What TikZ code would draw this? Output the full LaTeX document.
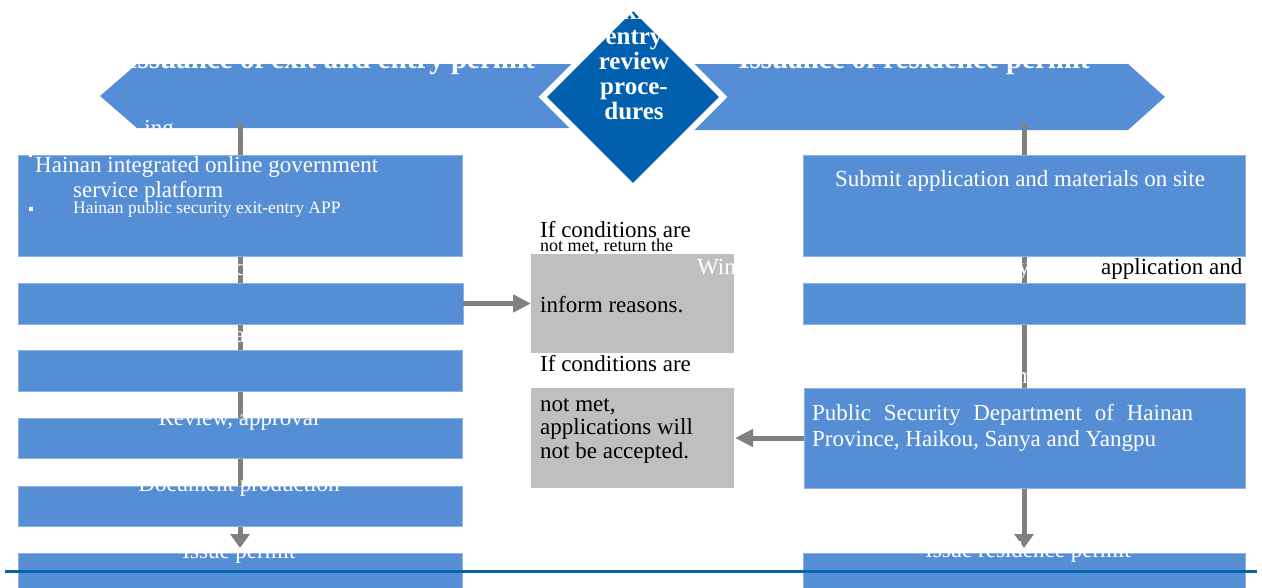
\documentclass[tikz,border=0pt]{standalone}
\usepackage{fontspec}
\setmainfont{Liberation Serif}
\usetikzlibrary{arrows.meta,shapes.geometric}
\definecolor{boxblue}{RGB}{85,142,213}
\definecolor{edgeblue}{RGB}{141,179,226}
\definecolor{dkblue}{RGB}{0,96,173}
\definecolor{conngray}{RGB}{128,128,128}
\definecolor{boxgray}{RGB}{191,191,191}
\definecolor{lineblue}{RGB}{5,99,174}
\begin{document}
\begin{tikzpicture}[x=1pt,y=-1pt,
  bluebox/.style={fill=boxblue, draw=edgeblue, line width=0.8pt, anchor=north west, inner sep=0pt, outer sep=0pt},
  graybox/.style={fill=boxgray, anchor=north west, inner sep=0pt, outer sep=0pt},
  banner/.style={fill=boxblue},
  vconn/.style={draw=conngray, line width=5pt, -{Triangle[width=19pt,length=14pt]}},
  hconn/.style={draw=conngray, line width=5pt, -{Triangle[width=17pt,length=18pt]}},
  wtxt/.style={text=white, inner sep=0pt, anchor=base, font=\fontsize{23}{27}\selectfont},
  wsmall/.style={text=white, inner sep=0pt, anchor=base west, font=\fontsize{17.5}{20}\selectfont},
  btxt/.style={text=black, inner sep=0pt, anchor=base west, font=\fontsize{23}{27}\selectfont},
  bsmall/.style={text=black, inner sep=0pt, anchor=base west, font=\fontsize{18}{20}\selectfont},
  ttl/.style={text=white, inner sep=0pt, anchor=base east, font=\bfseries\fontsize{29}{30}\selectfont},
  dtxt/.style={text=white, inner sep=0pt, anchor=base, font=\bfseries\fontsize{25}{25}\selectfont}
]
\useasboundingbox (0,0) rectangle (1262,587);
\clip (0,0) rectangle (1262,587);

% banners
\path[banner] (100,96) -- (137,64) -- (600,64) -- (600,128) -- (137,128) -- cycle;
\path[banner] (670,64) -- (1128,64) -- (1165,97) -- (1128,130) -- (670,130) -- cycle;

\coordinate (ltop) at (240,124);
\coordinate (rtop) at (1024,124);

% diamond
\node[diamond, aspect=1, minimum width=172pt, minimum height=172pt, inner sep=0pt,
      fill=dkblue, preaction={draw=white, line width=12pt, line join=miter}] (dia) at (633,97) {};

% left boxes
\node[bluebox, minimum width=444pt, minimum height=101pt] (l1) at (18,155) {};
\node[bluebox, minimum width=445pt, minimum height=41pt] (l2) at (18,283) {};
\node[bluebox, minimum width=444pt, minimum height=41pt] (l3) at (18,350) {};
\node[bluebox, minimum width=444pt, minimum height=40pt] (l4) at (18,418) {};
\node[bluebox, minimum width=444pt, minimum height=40pt] (l5) at (18,486) {};
\node[bluebox, minimum width=444pt, minimum height=50pt] (l6) at (18,553) {};
% right boxes
\node[bluebox, minimum width=442pt, minimum height=101pt] (r1) at (803,155) {};
\node[bluebox, minimum width=442pt, minimum height=41pt] (r2) at (803,283) {};
\node[bluebox, minimum width=441pt, minimum height=100pt] (r3) at (804,388) {};
\node[bluebox, minimum width=442pt, minimum height=50pt] (r4) at (803,553) {};
% grey boxes
\node[graybox, minimum width=203pt, minimum height=99pt] (gA) at (531,254) {};
\node[graybox, minimum width=203pt, minimum height=100pt] (gB) at (531,388) {};

% vertical lines, then boxes repainted on top so the lines show only between them
\draw[vconn, shorten >=5pt] (ltop) -- (l6.north);
\draw[vconn, shorten >=5pt] (rtop) -- (r4.north);
\foreach \x/\y/\w/\h in {18/155/444/101, 18/283/445/41, 18/350/444/41, 18/418/444/40, 18/486/444/40, 18/553/444/50, 803/155/442/101, 803/283/442/41, 804/388/441/100, 803/553/442/50}
  \path[fill=boxblue, draw=edgeblue, line width=0.8pt] (\x,\y) rectangle ++(\w,\h);

\draw[hconn] (l2.east) -- (gA.west);
\draw[hconn, shorten >=1pt] (r3.west) -- (gB.east);

% banner titles
\node[ttl] (t1) at (535,68) {Issuance of exit and entry permit};
\node[ttl] (t2) at (1090,68) {Issuance of residence permit};
\node[wtxt, anchor=base east] (tf) at (174,135) {ing};

% diamond text
\node[dtxt] (d0) at (634,19) {Exit-};
\node[dtxt] (d1) at (634,44) {entry};
\node[dtxt] (d2) at (634,69) {review};
\node[dtxt] (d3) at (634,94) {proce-};
\node[dtxt] (d4) at (634,119) {dures};

% left column texts
\fill[white] (29,154) rectangle (32,157);
\node[wtxt, anchor=base west] (a1) at (35,172) {Hainan integrated online government};
\node[wtxt, anchor=base west] (a2) at (73,197) {service platform};
\fill[white] (29,207) rectangle (33,211);
\node[wsmall] (a3) at (73,213) {Hainan public security exit-entry APP};
\node[wtxt] (fc) at (240,275) {c};
\node[wtxt] (fa) at (240,342) {a};
\node[wtxt] (a4) at (239,425) {Review, approval};
\node[wtxt] (a5) at (239,491) {Document production};
\node[wtxt] (a6) at (239,558) {Issue permit};

% middle texts
\node[btxt] (m1) at (540,237) {If conditions are};
\node[bsmall] (m2) at (540,251) {not met, return the};
\node[btxt] (m3) at (540,312) {inform reasons.};
\node[wtxt, anchor=base west] (m4) at (697,274) {Win};
\node[btxt] (m5) at (540,371) {If conditions are};
\node[btxt] (m6) at (540,411) {not met,};
\node[btxt] (m7) at (540,434) {applications will};
\node[btxt] (m8) at (540,458) {not be accepted.};

% right column texts
\node[wtxt] (b1) at (1020,186) {Submit application and materials on site};
\node[wtxt] (fy) at (1024,274) {y};
\node[btxt] (b2) at (1101,274) {application and};
\node[wtxt] (fm) at (1025,383) {m};
\node[wtxt, anchor=base west] (b3) at (812,420) {\makebox[381pt][s]{Public Security Department of Hainan}};
\node[wtxt, anchor=base west] (b4) at (812,446) {Province, Haikou, Sanya and Yangpu};
\node[wtxt] (b5) at (1028,557) {Issue residence permit};

% bottom rule
\draw[lineblue, line width=3pt] (5,571) -- (1257,571);
\end{tikzpicture}
\end{document}
